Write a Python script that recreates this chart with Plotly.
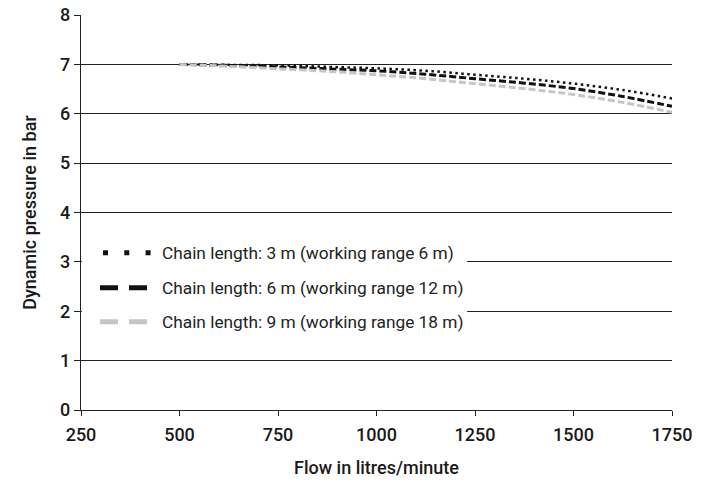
import plotly.graph_objects as go

flow = [500, 625, 750, 875, 1000, 1125, 1250, 1375, 1500, 1625, 1750]
p_3m = [7.00, 6.99, 6.98, 6.95, 6.92, 6.87, 6.79, 6.71, 6.61, 6.48, 6.31]
p_6m = [7.00, 6.98, 6.95, 6.91, 6.87, 6.80, 6.71, 6.62, 6.51, 6.35, 6.15]
p_9m = [7.00, 6.96, 6.91, 6.86, 6.79, 6.71, 6.61, 6.51, 6.39, 6.23, 6.03]

names = ["Chain length: 3 m (working range 6 m)",
         "Chain length: 6 m (working range 12 m)",
         "Chain length: 9 m (working range 18 m)"]
x_ticks = [250, 500, 750, 1000, 1250, 1500, 1750]
y_ticks = [0, 1, 2, 3, 4, 5, 6, 7, 8]

FONT = "Roboto, Liberation Sans, sans-serif"
TXT = "#1a1a1a"
GRAY = "#c6c6c6"

fig = go.Figure()

main_styles = [
    dict(color="#111111", width=2.5, dash="2.5px,3.5px"),
    dict(color="#111111", width=3, dash="7px,3px"),
    dict(color=GRAY, width=3, dash="7px,3px"),
]
legend_styles = [
    dict(color="#111111", width=5, dash="0px,3px,5px,13.3px"),
    dict(color="#111111", width=5, dash="18px,11px"),
    dict(color=GRAY, width=5, dash="18px,11px"),
]
series = [p_3m, p_6m, p_9m]
legend_ids = ["legend", "legend2", "legend3"]

for s, st in zip(series, main_styles):
    fig.add_trace(go.Scatter(x=flow, y=s, mode="lines", line=dict(shape="spline", **st),
                             showlegend=False, hoverinfo="skip"))

for name, st, lid in zip(names, legend_styles, legend_ids):
    fig.add_trace(go.Scatter(x=[None], y=[None], mode="lines", name=name, line=st,
                             legend=lid, showlegend=True))

# white band hiding gridlines behind the legend
fig.add_shape(type="rect", xref="x", yref="y", x0=252, x1=1230, y0=1.5, y1=3.5,
              fillcolor="white", line=dict(width=0), layer="between")

rows_px = [253, 288, 322]
L, R, T, B = 81, 34, 15, 75
W, H = 706, 485
ph = H - T - B
pw = W - L - R
leg_common = dict(x=(95 - L) / pw, xanchor="left", yanchor="middle", bgcolor="rgba(0,0,0,0)",
                  font=dict(family=FONT, size=17.3, color="#222222"), itemwidth=57,
                  borderwidth=0, tracegroupgap=0)
layout_leg = {}
for lid, rp in zip(legend_ids, rows_px):
    layout_leg[lid] = dict(y=(H - B - rp) / ph, **leg_common)

fig.update_layout(
    width=W, height=H,
    margin=dict(l=L, r=R, t=T, b=B, pad=0, autoexpand=False),
    paper_bgcolor="white", plot_bgcolor="white",
    font=dict(family=FONT, size=18, color=TXT),
    xaxis=dict(range=[250, 1750], tickvals=x_ticks, ticktext=[str(v) for v in x_ticks],
               showgrid=False, zeroline=False, showline=True, linecolor="#222222", linewidth=1.2,
               ticks="outside", ticklen=5, tickcolor="#222222", tickwidth=1.2,
               ticklabelstandoff=3,
               tickfont=dict(family=FONT, size=18, color=TXT, weight=500),
               automargin=False,
               title=dict(text="Flow in litres/minute",
                          font=dict(family=FONT, size=18, color=TXT, weight=500),
                          standoff=17)),
    yaxis=dict(range=[0, 8], tickvals=y_ticks, ticktext=[str(v) for v in y_ticks],
               showgrid=True, gridcolor="#222222", gridwidth=1.2, zeroline=False,
               showline=True, linecolor="#222222", linewidth=1.2,
               ticks="outside", ticklen=6, tickcolor="#222222", tickwidth=1.2,
               tickfont=dict(family=FONT, size=18, color=TXT, weight=500),
               automargin=False,
               title=dict(text="Dynamic pressure in bar",
                          font=dict(family=FONT, size=18, color=TXT, weight=500),
                          standoff=18)),
    **layout_leg,
)

fig.write_html("out.html", config={"displayModeBar": False},
               post_script="document.body.style.margin='0';document.body.style.overflow='hidden';")
